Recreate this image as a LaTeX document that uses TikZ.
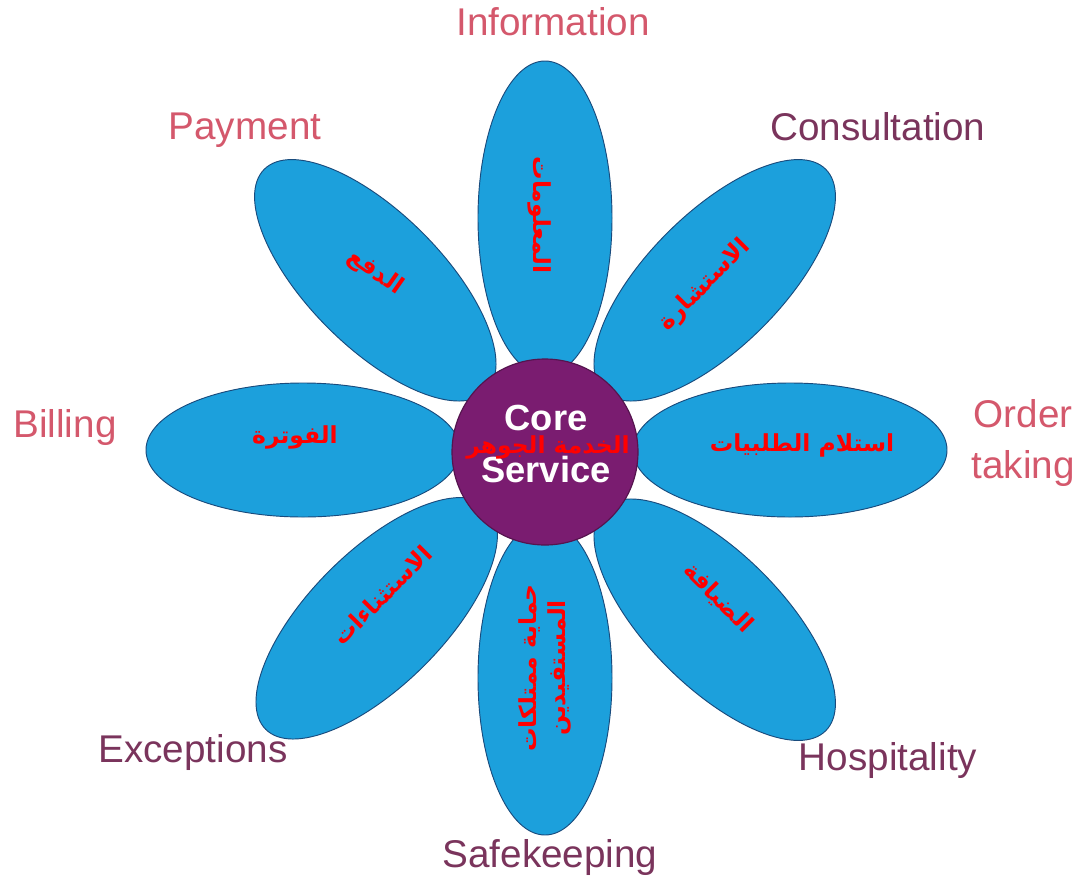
\documentclass[tikz,border=0pt]{standalone}
\usepackage{fontspec}
\setmainfont{Liberation Sans}
\newfontfamily\arabicfont[Script=Arabic]{DejaVu Sans}
\TeXXeTstate=1
\definecolor{petalblue}{RGB}{28,160,220}
\definecolor{petaledge}{RGB}{25,75,125}
\definecolor{corepurple}{RGB}{122,28,112}
\definecolor{labelpink}{RGB}{212,88,108}
\definecolor{labeldark}{RGB}{122,52,92}
\begin{document}
\begin{tikzpicture}[x=0.03cm,y=-0.03cm,
  petalshape/.style={fill=petalblue,draw=petaledge,line width=0.8pt,
    preaction={draw=white,line width=6pt}},
  artext/.style={text=red,font=\arabicfont\bfseries\fontsize{20}{25}\selectfont,inner sep=0pt},
  entext/.style={font=\fontsize{33}{43}\selectfont,inner sep=0pt}]
  \useasboundingbox (0,0) rectangle (1085,886);
  % petals, one every 45 degrees (angle/distance of petal centre)
  \foreach \a/\d in {0/245,45/240,90/232,135/240,180/242,225/238,270/228,315/240}
    \draw[petalshape,rotate around={\a:(545,450)}] ({545+\d},450) ellipse [x radius=157, y radius=67];
  % core
  \draw[fill=corepurple,draw=corepurple!70!black,line width=1pt] (545,452) circle [radius=93];
  \node[text=white,font=\bfseries\fontsize{31}{44}\selectfont,align=center,inner sep=0pt] (core) at (546,444) {Core\\Service};
  \node[artext] (corear) at (548,447) {\beginR الخدمة الجوهر\endR};
  % arabic in petals
  \node[artext,rotate=-90] (infoar) at (540,215) {\beginR المعلومات\endR};
  \node[artext,rotate=45] (consultar) at (705,285) {\beginR الاستشارة\endR};
  \node[artext] (orderar) at (802,445) {\beginR استلام الطلبيات\endR};
  \node[artext,rotate=-45] (hospar) at (718,598) {\beginR الضيافة\endR};
  \node[artext,rotate=90,align=center] (safear) at (545,668) {\beginR حماية ممتلكات\endR\\\beginR المستفيدين\endR};
  \node[artext,rotate=45] (exceptar) at (382,595) {\beginR الاستثناءات\endR};
  \node[artext] (billar) at (295,437) {\beginR الفوترة\endR};
  \node[artext,rotate=-35] (payar) at (375,272) {\beginR الدفع\endR};
  % english labels
  \node[entext,labelpink] (info) at (553,22) {Information};
  \node[entext,labelpink] (pay) at (245,130) {Payment};
  \node[entext,labeldark] (consult) at (878,127) {Consultation};
  \node[entext,labelpink] (bill) at (65,427) {Billing};
  \node[entext,labelpink,align=center] (order) at (1023,443) {Order\\taking};
  \node[entext,labeldark] (except) at (193,752) {Exceptions};
  \node[entext,labeldark] (hosp) at (888,760) {Hospitality};
  \node[entext,labeldark] (safe) at (550,857) {Safekeeping};
\end{tikzpicture}
\end{document}
